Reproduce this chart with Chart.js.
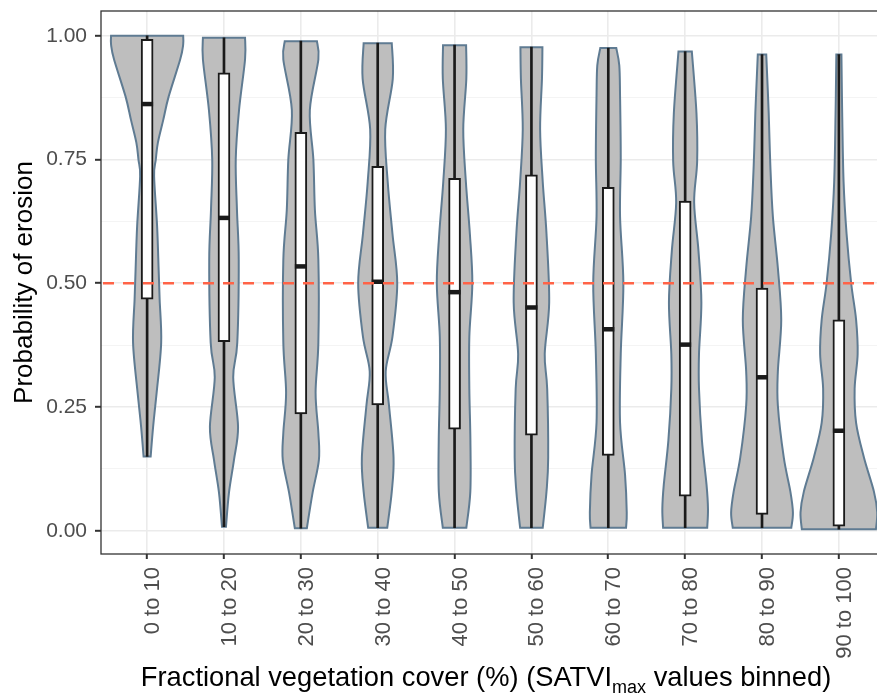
<!DOCTYPE html>
<html>
<head>
<meta charset="utf-8">
<script src="https://cdn.jsdelivr.net/npm/chart.js@4.4.1/dist/chart.umd.min.js"></script>
<style>
  html, body { margin: 0; padding: 0; background: #ffffff; overflow: hidden; }
</style>
</head>
<body>
<canvas id="violinos" width="885" height="696"></canvas>
<script>
// categorias (bins de cobertura)
const categorias = ["0 to 10", "10 to 20", "20 to 30", "30 to 40", "40 to 50",
                    "50 to 60", "60 to 70", "70 to 80", "80 to 90", "90 to 100"]

// eixo y: ticks maiores e menores
const yTicks = [0, 0.125, 0.25, 0.375, 0.5, 0.625, 0.75, 0.875, 1]
const yTickLabels = ["0.00", "", "0.25", "", "0.50", "", "0.75", "", "1.00"]

// boxplot
const q1 = [0.468, 0.382, 0.236, 0.254, 0.205, 0.193, 0.152, 0.070, 0.033, 0.009]
const mediana = [0.862, 0.632, 0.534, 0.503, 0.482, 0.451, 0.407, 0.376, 0.310, 0.202]
const q3 = [0.993, 0.925, 0.805, 0.736, 0.712, 0.719, 0.694, 0.666, 0.490, 0.426]
const bigodeMin = [0.150, 0.008, 0.005, 0.006, 0.006, 0.006, 0.006, 0.006, 0.006, 0.003]
const bigodeMax = [1.000, 0.996, 0.989, 0.985, 0.981, 0.977, 0.975, 0.968, 0.962, 0.962]

// violinos: niveis de y e meia largura (em unidades de categoria)
const violinY = [
    [1.000, 0.982, 0.952, 0.877, 0.830, 0.784, 0.750, 0.716, 0.615, 0.527, 0.467, 0.380, 0.279, 0.210, 0.150],
    [0.996, 0.952, 0.850, 0.750, 0.648, 0.547, 0.380, 0.310, 0.210, 0.143, 0.077, 0.008],
    [0.989, 0.952, 0.850, 0.750, 0.648, 0.547, 0.380, 0.279, 0.198, 0.143, 0.077, 0.005],
    [0.985, 0.913, 0.811, 0.705, 0.600, 0.500, 0.392, 0.322, 0.253, 0.148, 0.079, 0.006],
    [0.981, 0.913, 0.811, 0.705, 0.600, 0.500, 0.392, 0.287, 0.183, 0.079, 0.006],
    [0.977, 0.913, 0.811, 0.705, 0.600, 0.461, 0.357, 0.287, 0.148, 0.079, 0.006],
    [0.975, 0.940, 0.879, 0.754, 0.635, 0.500, 0.357, 0.218, 0.113, 0.037, 0.006],
    [0.968, 0.844, 0.746, 0.663, 0.566, 0.461, 0.357, 0.287, 0.183, 0.093, 0.044, 0.006],
    [0.962, 0.844, 0.739, 0.635, 0.531, 0.426, 0.322, 0.253, 0.148, 0.079, 0.037, 0.006],
    [0.962, 0.844, 0.705, 0.600, 0.500, 0.426, 0.357, 0.287, 0.218, 0.148, 0.079, 0.037, 0.003]
]
const violinW = [
    [0.469, 0.469, 0.430, 0.280, 0.210, 0.140, 0.113, 0.091, 0.130, 0.150, 0.163, 0.183, 0.124, 0.078, 0.046],
    [0.274, 0.274, 0.196, 0.153, 0.169, 0.192, 0.173, 0.120, 0.183, 0.130, 0.065, 0.026],
    [0.209, 0.228, 0.117, 0.163, 0.183, 0.228, 0.228, 0.192, 0.228, 0.235, 0.153, 0.078],
    [0.183, 0.196, 0.098, 0.130, 0.192, 0.254, 0.192, 0.104, 0.147, 0.206, 0.183, 0.124],
    [0.150, 0.153, 0.113, 0.147, 0.199, 0.231, 0.192, 0.192, 0.206, 0.205, 0.153],
    [0.143, 0.137, 0.113, 0.147, 0.196, 0.231, 0.173, 0.205, 0.218, 0.196, 0.147],
    [0.104, 0.143, 0.153, 0.162, 0.153, 0.196, 0.162, 0.153, 0.218, 0.240, 0.231],
    [0.087, 0.147, 0.156, 0.117, 0.173, 0.211, 0.180, 0.180, 0.218, 0.278, 0.297, 0.287],
    [0.055, 0.087, 0.108, 0.141, 0.206, 0.250, 0.206, 0.206, 0.283, 0.369, 0.402, 0.381],
    [0.033, 0.043, 0.061, 0.100, 0.160, 0.224, 0.244, 0.205, 0.224, 0.326, 0.456, 0.499, 0.482]
]

const linhaCorte = 0.5

Chart.defaults.font.family = "'Liberation Sans', Arial, sans-serif"

// curva suave (catmull-rom) pelos pontos
function curva(ctx, p) {
    for (let k = 0; k < p.length - 1; k++) {
        const p0 = p[Math.max(k - 1, 0)], p1 = p[k], p2 = p[k + 1], p3 = p[Math.min(k + 2, p.length - 1)]
        ctx.bezierCurveTo(
            p1[0] + (p2[0] - p0[0]) / 6, p1[1] + (p2[1] - p0[1]) / 6,
            p2[0] - (p3[0] - p1[0]) / 6, p2[1] - (p3[1] - p1[1]) / 6,
            p2[0], p2[1])
    }
}

const pluginViolino = {
    id: 'violino',
    beforeDatasetsDraw(chart) {
        const { ctx, scales: { x, y } } = chart
        ctx.save()
        for (let i = 0; i < categorias.length; i++) {
            const ys = violinY[i], ws = violinW[i]
            const esq = ys.map((v, k) => [x.getPixelForValue(i - ws[k]), y.getPixelForValue(v)])
            const dir = ys.map((v, k) => [x.getPixelForValue(i + ws[k]), y.getPixelForValue(v)]).reverse()
            ctx.beginPath()
            ctx.moveTo(esq[0][0], esq[0][1])
            curva(ctx, esq)
            ctx.lineTo(dir[0][0], dir[0][1])
            curva(ctx, dir)
            ctx.closePath()
            ctx.fillStyle = '#bebebe'
            ctx.fill()
            ctx.strokeStyle = '#5f7b92'
            ctx.lineWidth = 2
            ctx.stroke()
        }
        ctx.restore()
    },
    afterDatasetsDraw(chart) {
        const { ctx, chartArea, scales: { y } } = chart
        const py = y.getPixelForValue(linhaCorte)
        ctx.save()
        ctx.strokeStyle = '#ff6347'
        ctx.lineWidth = 2.4
        ctx.setLineDash([11, 9])
        ctx.beginPath()
        ctx.moveTo(chartArea.left + 2, py)
        ctx.lineTo(chartArea.right, py)
        ctx.stroke()
        ctx.restore()
    },
    afterDraw(chart) {
        const { ctx, chartArea } = chart
        ctx.save()
        ctx.strokeStyle = '#333333'
        ctx.lineWidth = 1.3
        ctx.strokeRect(chartArea.left, chartArea.top, chartArea.right - chartArea.left, chartArea.bottom - chartArea.top)

        // titulo do eixo x com subscrito
        const partes = [
            { t: 'Fractional vegetation cover (%) (SATVI', f: 27.3, dy: 0 },
            { t: 'max', f: 18, dy: 7 },
            { t: ' values binned)', f: 27.3, dy: 0 }
        ]
        let total = 0
        partes.forEach(p => {
            ctx.font = p.f + "px 'Liberation Sans', Arial, sans-serif"
            p.w = ctx.measureText(p.t).width
            total += p.w
        })
        let px = (chartArea.left + chartArea.right) / 2 - total / 2 - 7
        ctx.fillStyle = '#000000'
        ctx.textBaseline = 'alphabetic'
        partes.forEach(p => {
            ctx.font = p.f + "px 'Liberation Sans', Arial, sans-serif"
            ctx.fillText(p.t, px, 686 + p.dy)
            px += p.w
        })
        ctx.restore()
    }
}

const grafico = document.getElementById("violinos")

new Chart(grafico, {
    data: {
        datasets: [
            {
                type: 'scatter',
                label: 'Mediana',
                data: mediana.map((m, i) => ({ x: i, y: m })),
                pointStyle: 'line',
                pointRadius: 6,
                borderColor: '#1a1a1a',
                borderWidth: 4.5,
                order: 1
            },
            {
                type: 'bar',
                label: 'Caixa',
                data: q1.map((v, i) => ({ x: i, y: [v, q3[i]] })),
                backgroundColor: '#ffffff',
                borderColor: '#1a1a1a',
                borderWidth: 2,
                borderSkipped: false,
                barThickness: 12,
                grouped: false,
                order: 2
            },
            {
                type: 'bar',
                label: 'Bigode',
                data: bigodeMin.map((v, i) => ({ x: i, y: [v, bigodeMax[i]] })),
                backgroundColor: '#1a1a1a',
                borderWidth: 0,
                barThickness: 2,
                grouped: false,
                order: 3
            }
        ]
    },
    options: {
        responsive: false,
        animation: false,
        events: [],
        layout: {
            autoPadding: false,
            padding: { top: 11, right: 0, bottom: 0, left: 0 }
        },
        plugins: {
            legend: { display: false },
            tooltip: { enabled: false }
        },
        scales: {
            x: {
                type: 'linear',
                min: -0.6,
                max: 9.6,
                offset: false,
                afterBuildTicks: s => { s.ticks = categorias.map((c, i) => ({ value: i })) },
                afterFit: s => { s.height = 142; s.paddingLeft = 0; s.paddingRight = 0 },
                ticks: {
                    autoSkip: false,
                    minRotation: 90,
                    maxRotation: 90,
                    padding: 8,
                    labelOffset: 6,
                    color: '#4d4d4d',
                    font: { size: 22 },
                    callback: v => categorias[v]
                },
                grid: {
                    offset: false,
                    color: '#ebebeb',
                    lineWidth: 1.6,
                    tickLength: 5,
                    tickColor: '#333333',
                    tickWidth: 2
                },
                border: { display: false }
            },
            y: {
                type: 'linear',
                position: 'left',
                min: -0.047,
                max: 1.05,
                afterBuildTicks: s => { s.ticks = yTicks.map(v => ({ value: v })) },
                afterFit: s => { s.width = 101; s.paddingTop = 0; s.paddingBottom = 0 },
                ticks: {
                    autoSkip: false,
                    padding: 8,
                    color: '#4d4d4d',
                    font: { size: 21 },
                    callback: (v, i) => yTickLabels[i]
                },
                grid: {
                    color: c => yTickLabels[c.index] ? '#ebebeb' : '#f3f3f3',
                    lineWidth: c => yTickLabels[c.index] ? 1.6 : 0.9,
                    tickLength: 6,
                    tickColor: c => yTickLabels[c.index] ? '#333333' : 'rgba(0,0,0,0)',
                    tickWidth: 2
                },
                border: { display: false },
                title: {
                    display: true,
                    text: 'Probability of erosion',
                    color: '#000000',
                    font: { size: 26 },
                    padding: { top: 9, bottom: 0 }
                }
            }
        }
    },
    plugins: [pluginViolino]
})
</script>
</body>
</html>
